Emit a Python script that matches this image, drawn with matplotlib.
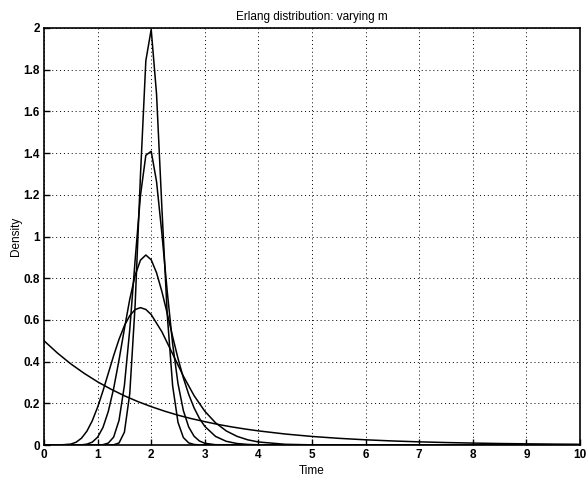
import matplotlib
matplotlib.use("Agg")
import matplotlib.pyplot as plt

plt.rcParams['font.family'] = ['Liberation Sans', 'DejaVu Sans']

# Erlang densities (mean 2) for m = 1, 10, 20, 50, 100
x_m1 = [0, 0.25, 0.5, 0.75, 1, 1.25, 1.5, 1.75, 2, 2.25, 2.5, 2.75, 3, 3.25, 3.5, 3.75, 4,
        4.5, 5, 5.5, 6, 6.5, 7, 7.5, 8, 8.5, 9, 9.5, 10]
y_m1 = [0.5, 0.4412, 0.389, 0.3436, 0.303, 0.2676, 0.236, 0.2084, 0.184, 0.1623, 0.143,
        0.1264, 0.112, 0.0985, 0.0869, 0.0767, 0.0677, 0.0527, 0.0410,
        0.0320, 0.0249, 0.0194, 0.0151, 0.0118, 0.0092, 0.0071, 0.0056, 0.0043, 0.0034]

x_m10 = [0, 0.3, 0.5, 0.6, 0.7, 0.8, 0.9, 1.0, 1.1, 1.2, 1.3, 1.4, 1.5, 1.6, 1.7, 1.8, 1.9,
         2.0, 2.2, 2.4, 2.6, 2.8, 3.0, 3.2, 3.4, 3.6, 3.8, 4.0, 4.5, 5, 6, 10]
y_m10 = [0, 0.00012, 0.0043, 0.0135, 0.0328, 0.0662, 0.1158, 0.1813, 0.2593, 0.3442, 0.4291,
         0.5071, 0.5722, 0.6204, 0.6494, 0.6588, 0.6501, 0.6256, 0.5427, 0.4369, 0.3303,
         0.2367, 0.1620, 0.1066, 0.0676, 0.0416, 0.0249, 0.0145, 0.0034, 0.0007, 0.00003, 0]

x_m20 = [0, 0.7, 0.8, 0.9, 1.0, 1.1, 1.2, 1.3, 1.4, 1.5, 1.6, 1.7, 1.8, 1.9, 2.0, 2.1, 2.2,
         2.3, 2.4, 2.5, 2.6, 2.7, 2.8, 2.9, 3.0, 3.2, 3.4, 3.6, 3.8, 4.0, 10]
y_m20 = [0, 0.00085, 0.0040, 0.0137, 0.0373, 0.0840, 0.1614, 0.2716, 0.4085, 0.5575, 0.6989,
         0.8137, 0.8867, 0.9112, 0.8883, 0.8259, 0.7353, 0.6295, 0.5198, 0.4153, 0.3219,
         0.2426, 0.1781, 0.1276, 0.0894, 0.0412, 0.0177, 0.0071, 0.0027, 0.0010, 0]

x_m50 = [0, 1.0, 1.1, 1.2, 1.3, 1.4, 1.5, 1.6, 1.7, 1.8, 1.9, 2.0, 2.1, 2.2, 2.3, 2.4, 2.5,
         2.6, 2.7, 2.8, 2.9, 3.0, 3.2, 10]
y_m50 = [0, 0.0002, 0.0016, 0.0092, 0.0382, 0.1183, 0.2854, 0.5535, 0.8863, 1.1973, 1.3897,
         1.4087, 1.2628, 1.0129, 0.7341, 0.4850, 0.2943, 0.1650, 0.0861, 0.0420, 0.0192,
         0.0083, 0.0013, 0]

x_m100 = [0, 1.2, 1.3, 1.4, 1.5, 1.6, 1.7, 1.8, 1.9, 2.0, 2.1, 2.2, 2.3, 2.4, 2.5, 2.6, 2.7,
          2.8, 2.9, 3.0, 10]
y_m100 = [0, 0.00005, 0.00095, 0.0098, 0.0614, 0.2463, 0.6705, 1.2956, 1.8433, 1.9931,
          1.6819, 1.1335, 0.6226, 0.2835, 0.1087, 0.0356, 0.0101, 0.0025, 0.0005, 0.0001, 0]

series = [(x_m1, y_m1), (x_m10, y_m10), (x_m20, y_m20), (x_m50, y_m50), (x_m100, y_m100)]

x_ticks = [0, 1, 2, 3, 4, 5, 6, 7, 8, 9, 10]
x_tick_labels = ['0', '1', '2', '3', '4', '5', '6', '7', '8', '9', '10']
y_ticks = [0, 0.2, 0.4, 0.6, 0.8, 1.0, 1.2, 1.4, 1.6, 1.8, 2.0]
y_tick_labels = ['0', '0.2', '0.4', '0.6', '0.8', '1', '1.2', '1.4', '1.6', '1.8', '2']

fig = plt.figure(figsize=(5.86, 4.83), dpi=100)
ax = fig.add_axes([44 / 586, 38 / 483, 536 / 586, 417 / 483])

for xs, ys in series:
    ax.plot(xs, ys, color='black', linewidth=1.1)

ax.set_xlim(0, 10)
ax.set_ylim(0, 2)
ax.set_xticks(x_ticks)
ax.set_xticklabels(x_tick_labels, fontsize=8.5, fontweight='bold')
ax.set_yticks(y_ticks)
ax.set_yticklabels(y_tick_labels, fontsize=8.5, fontweight='bold')
ax.tick_params(direction='in', length=4, width=1, pad=3)
ax.grid(True, linestyle=(0, (1, 3)), color='black', linewidth=0.7)
for s in ax.spines.values():
    s.set_linewidth(1.2)

ax.set_title('Erlang distribution: varying m', fontsize=8.5, pad=6)
ax.set_xlabel('Time', fontsize=8.5, labelpad=3)
ax.set_ylabel('Density', fontsize=8.5, labelpad=1)

fig.savefig('out.png', dpi=100)
